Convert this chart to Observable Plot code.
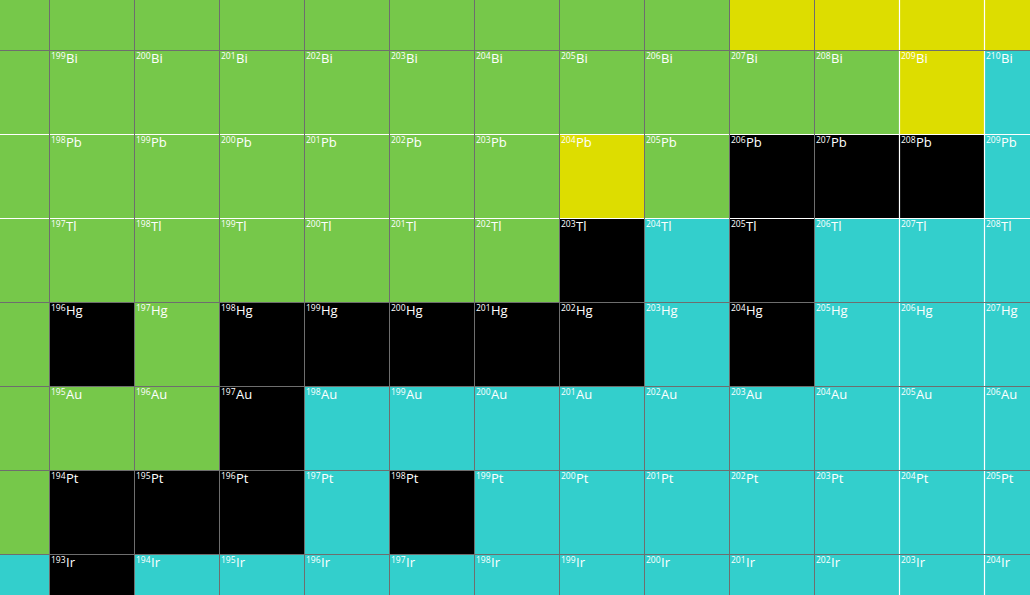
<!DOCTYPE html>
<html>
<head>
<meta charset="utf-8">
<script src="https://cdn.jsdelivr.net/npm/d3@7"></script>
<script src="https://cdn.jsdelivr.net/npm/@observablehq/plot@0.6"></script>
<style>
  html, body { margin: 0; padding: 0; background: #fff; overflow: hidden; }
  #chart svg { display: block; }
</style>
</head>
<body>
<div id="chart"></div>
<script>
// Elements (rows, top to bottom) and their proton numbers
const elements = ["Po", "Bi", "Pb", "Tl", "Hg", "Au", "Pt", "Ir"];
const protons = [84, 83, 82, 81, 80, 79, 78, 77];
// Neutron numbers (columns, left to right)
const neutrons = [115, 116, 117, 118, 119, 120, 121, 122, 123, 124, 125, 126, 127];
// Decay mode per cell: e = EC/β+, a = α, s = stable, b = β−
const modesPo = ["e","e","e","e","e","e","e","e","e","a","a","a","a"];
const modesBi = ["e","e","e","e","e","e","e","e","e","e","e","a","b"];
const modesPb = ["e","e","e","e","e","e","e","a","e","s","s","s","b"];
const modesTl = ["e","e","e","e","e","e","e","s","b","s","b","b","b"];
const modesHg = ["e","s","e","s","s","s","s","s","b","s","b","b","b"];
const modesAu = ["e","e","e","s","b","b","b","b","b","b","b","b","b"];
const modesPt = ["e","s","s","s","b","s","b","b","b","b","b","b","b"];
const modesIr = ["b","s","b","b","b","b","b","b","b","b","b","b","b"];
const modeRows = [modesPo, modesBi, modesPb, modesTl, modesHg, modesAu, modesPt, modesIr];
// Magic numbers shown with white lines
const magicN = [126];
const magicZ = [82];

const modeDomain = ["e", "a", "s", "b"];
const modeColors = ["#76c84a", "#dddd00", "#000000", "#33cfcc"];

const cells = [];
elements.forEach((sym, i) => {
  neutrons.forEach((n, j) => {
    const z = protons[i];
    cells.push({sym, Z: z, N: n, A: z + n, mode: modeRows[i][j]});
  });
});

const W = 1030, H = 595;
const cellW = 85, cellH = 84;
const x0 = 49, y0 = 50; // pixel position of N=116 left edge, Z=83 top edge
const xDomain = [116 - x0 / cellW, 116 + (W - x0) / cellW];
const yDomain = [84 - (H - y0) / cellH, 84 + y0 / cellH];

// labels sit at each cell's top-left corner; only those inside the view are drawn
const labelled = cells.filter(d => d.N >= xDomain[0] && d.Z + 1 <= yDomain[1]);

const nEdges = d3.range(d3.min(neutrons), d3.max(neutrons) + 2);
const zEdges = d3.range(d3.min(protons), d3.max(protons) + 2);
const magicNEdges = magicN.flatMap(n => [n, n + 1]);
const magicZEdges = magicZ.flatMap(z => [z, z + 1]);
const grayN = nEdges.filter(e => !magicNEdges.includes(e));
const grayZ = zEdges.filter(e => !magicZEdges.includes(e));

const font = "'Open Sans', sans-serif";

const chart = Plot.plot({
  width: W,
  height: H,
  margin: 0,
  x: {domain: xDomain, range: [0, W], axis: null},
  y: {domain: yDomain, range: [H, 0], axis: null},
  color: {domain: modeDomain, range: modeColors},
  style: {background: "#fff", fontFamily: font},
  marks: [
    Plot.rect(cells, {x1: "N", x2: d => d.N + 1, y1: "Z", y2: d => d.Z + 1, fill: "mode", inset: 0}),
    Plot.ruleX(magicNEdges, {stroke: "#ffffff", strokeWidth: 1.2}),
    Plot.ruleY(magicZEdges, {stroke: "#ffffff", strokeWidth: 1.2}),
    Plot.ruleX(grayN, {stroke: "#6e6e6e", strokeWidth: 1}),
    Plot.ruleY(grayZ, {stroke: "#6e6e6e", strokeWidth: 1}),
    Plot.text(labelled, {x: "N", y: d => d.Z + 1, text: d => String(d.A), textAnchor: "start", lineAnchor: "top",
      dx: 1.5, dy: 2, fontSize: 8.5, fill: "#ffffff", fontFamily: font}),
    Plot.text(labelled, {x: "N", y: d => d.Z + 1, text: "sym", textAnchor: "start", lineAnchor: "top",
      dx: 16.5, dy: 3.3, fontSize: 13, fill: "#ffffff", fontFamily: font})
  ]
});
document.getElementById("chart").appendChild(chart);
</script>
</body>
</html>
